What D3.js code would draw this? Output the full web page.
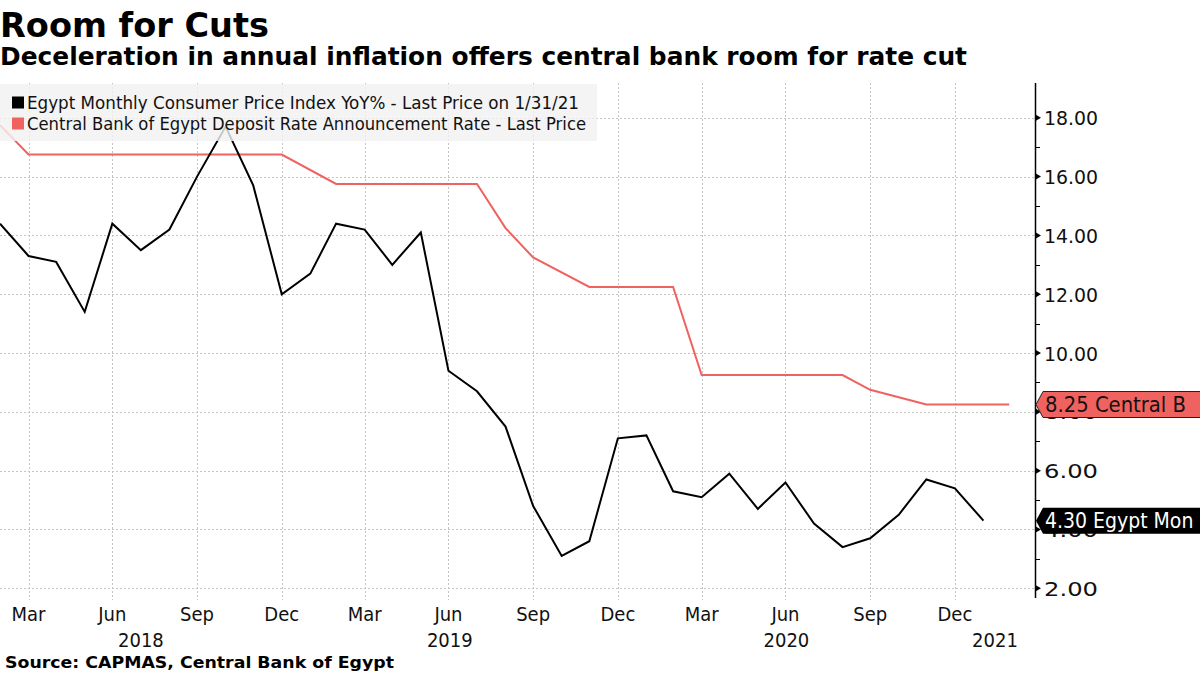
<!DOCTYPE html>
<html>
<head>
<meta charset="utf-8">
<script src="https://cdn.jsdelivr.net/npm/d3@7"></script>
<style>
  html, body { margin: 0; padding: 0; background: #fff; }
  svg { display: block; }
</style>
</head>
<body>
<div id="chart"></div>
<script>
// ---------------- DATA ----------------
const cpiMonths = ["2018-02","2018-03","2018-04","2018-05","2018-06","2018-07","2018-08","2018-09","2018-10","2018-11","2018-12",
  "2019-01","2019-02","2019-03","2019-04","2019-05","2019-06","2019-07","2019-08","2019-09","2019-10","2019-11","2019-12",
  "2020-01","2020-02","2020-03","2020-04","2020-05","2020-06","2020-07","2020-08","2020-09","2020-10","2020-11","2020-12",
  "2021-01"];
const cpiValues = [14.4,13.3,13.1,11.4,14.4,13.5,14.2,16.0,17.7,15.7,12.0,
  12.7,14.4,14.2,13.0,14.1,9.4,8.7,7.5,4.8,3.1,3.6,7.1,
  7.2,5.3,5.1,5.9,4.7,5.6,4.2,3.4,3.7,4.5,5.7,5.4,
  4.3];
const rateMonths = ["2018-02","2018-03","2018-12","2019-02","2019-07","2019-08","2019-09","2019-11","2020-02","2020-03","2020-08","2020-09","2020-11","2021-02"];
const rateValues = [17.75,16.75,16.75,15.75,15.75,14.25,13.25,12.25,12.25,9.25,9.25,8.75,8.25,8.25];
const xTickMonths = ["2018-03","2018-06","2018-09","2018-12","2019-03","2019-06","2019-09","2019-12","2020-03","2020-06","2020-09","2020-12"];
const xTickLabels = ["Mar","Jun","Sep","Dec","Mar","Jun","Sep","Dec","Mar","Jun","Sep","Dec"];
const yearLabels = ["2018","2019","2020","2021"];
const yTicks = [2,4,6,8,10,12,14,16,18];
const yMinorTicks = [3,5,7,9,11,13,15,17];
const seriesNames = ["Egypt Monthly Consumer Price Index YoY% - Last Price on 1/31/21",
                     "Central Bank of Egypt Deposit Rate Announcement Rate - Last Price"];
const lastLabels = ["4.30 Egypt Mon", "8.25 Central B"];
const titleText = "Room for Cuts";
const subtitleText = "Deceleration in annual inflation offers central bank room for rate cut";
const sourceText = "Source: CAPMAS, Central Bank of Egypt";

// ---------------- SETUP ----------------
const W = 1200, H = 675;
const RED = "#f0625f";
const COND = "'DejaVu Sans Condensed', 'DejaVu Sans', sans-serif";
const BOLD = "'DejaVu Sans', sans-serif";

// month-end date of "YYYY-MM"
const monthEnd = s => { const [yy, mm] = s.split("-").map(Number); return new Date(yy, mm, 0); };

const plot = { left: 0, right: 1035, top: 83, bottom: 598 };
const x = d3.scaleTime()
  .domain([new Date(2018, 1, 28), new Date(2021, 2, 28)])
  .range([plot.left, plot.right]);
const y = d3.scaleLinear().domain([2, 18]).range([588.3, 117.8]);

const svg = d3.select("#chart").append("svg")
  .attr("width", W).attr("height", H).attr("viewBox", `0 0 ${W} ${H}`);

function fit(sel, target) {
  const n = sel.node();
  const w = n.getComputedTextLength();
  if (Math.abs(w - target) > 1) sel.attr("textLength", target).attr("lengthAdjust", "spacingAndGlyphs");
  return sel;
}

// ---------------- GRID ----------------
const grid = svg.append("g").attr("stroke", "#c4c4c4").attr("stroke-width", 1).attr("stroke-dasharray", "2,2");
grid.selectAll("line.h").data(yTicks).join("line").attr("class", "h")
  .attr("x1", plot.left).attr("x2", plot.right)
  .attr("y1", d => Math.round(y(d)) + 0.5).attr("y2", d => Math.round(y(d)) + 0.5);
grid.selectAll("line.v").data(xTickMonths).join("line").attr("class", "v")
  .attr("x1", d => Math.round(x(monthEnd(d))) + 0.5).attr("x2", d => Math.round(x(monthEnd(d))) + 0.5)
  .attr("y1", plot.top).attr("y2", 600);

// ---------------- LINES ----------------
svg.append("clipPath").attr("id", "clip").append("rect")
  .attr("x", plot.left).attr("y", plot.top).attr("width", plot.right - plot.left).attr("height", plot.bottom - plot.top);

const cpi = cpiMonths.map((m, i) => ({ d: monthEnd(m), v: cpiValues[i] }));
const rate = rateMonths.map((m, i) => ({ d: monthEnd(m), v: rateValues[i] }));
const line = d3.line().x(p => x(p.d)).y(p => y(p.v));

svg.append("path").datum(rate).attr("clip-path", "url(#clip)")
  .attr("fill", "none").attr("stroke", RED).attr("stroke-width", 2).attr("d", line);
svg.append("path").datum(cpi).attr("clip-path", "url(#clip)")
  .attr("fill", "none").attr("stroke", "#000").attr("stroke-width", 2).attr("stroke-linejoin", "miter").attr("d", line);

// ---------------- LEGEND ----------------
svg.append("rect").attr("x", 0).attr("y", 84).attr("width", 597).attr("height", 57)
  .attr("fill", "#f2f2f2").attr("fill-opacity", 0.82);
const legColors = ["#000", RED];
const legBase = [109, 130];
const legWidths = [552, 559];
seriesNames.forEach((name, i) => {
  svg.append("rect").attr("x", 12).attr("y", legBase[i] - 12.5).attr("width", 12).attr("height", 12).attr("fill", legColors[i]);
  const t = svg.append("text").attr("x", 27).attr("y", legBase[i])
    .attr("font-family", COND).attr("font-size", 17).attr("fill", "#111").text(name);
  fit(t, legWidths[i]);
});

// ---------------- Y AXIS ----------------
const yAxisG = svg.append("g").attr("transform", `translate(${plot.right},0)`)
  .call(d3.axisRight(y).tickValues(yTicks).tickFormat(d3.format(".2f")).tickSize(0).tickPadding(9));
yAxisG.select(".domain").remove();
yAxisG.selectAll("text").attr("font-family", COND).attr("font-size", 20).attr("fill", "#111").attr("dy", "0.35em");
yAxisG.selectAll("text").each(function () { fit(d3.select(this), 54); });

svg.append("line").attr("x1", plot.right + 0.5).attr("x2", plot.right + 0.5).attr("y1", plot.top).attr("y2", plot.bottom)
  .attr("stroke", "#000").attr("stroke-width", 1.5);
svg.append("g").selectAll("path").data(yTicks).join("path")
  .attr("d", d => { const yy = y(d); return `M${plot.right},${yy - 3.5}L${plot.right + 6},${yy}L${plot.right},${yy + 3.5}Z`; })
  .attr("fill", "#000");
svg.append("g").selectAll("line").data(yMinorTicks).join("line")
  .attr("x1", plot.right).attr("x2", plot.right + 5)
  .attr("y1", d => Math.round(y(d)) + 0.5).attr("y2", d => Math.round(y(d)) + 0.5)
  .attr("stroke", "#000").attr("stroke-width", 1);

// ---------------- X AXIS LABELS ----------------
svg.append("g").selectAll("text").data(xTickMonths).join("text")
  .attr("x", d => x(monthEnd(d))).attr("y", 621)
  .attr("text-anchor", "middle").attr("font-family", COND).attr("font-size", 20).attr("fill", "#111")
  .text((d, i) => xTickLabels[i]);

const yearSpans = yearLabels.map(yr => {
  const a = Math.max(x(new Date(+yr - 1, 11, 31)), plot.left);
  const b = Math.min(x(new Date(+yr, 11, 31)), plot.right);
  return { yr, c: (a + b) / 2 };
});
svg.append("g").selectAll("text").data(yearSpans).join("text")
  .attr("x", d => d.c).attr("y", 647)
  .attr("text-anchor", "middle").attr("font-family", COND).attr("font-size", 20).attr("fill", "#111")
  .text(d => d.yr);

// ---------------- LAST VALUE TAGS ----------------
const tags = [
  { v: cpiValues[cpiValues.length - 1], fill: "#000", text: "#fff", stroke: "none", label: lastLabels[0], w: 149 },
  { v: rateValues[rateValues.length - 1], fill: RED, text: "#111", stroke: "#222", label: lastLabels[1], w: 141 }
];
tags.forEach(t => {
  const cy = y(t.v), h = 26, x0 = plot.right + 1, x1 = plot.right + 8;
  svg.append("path")
    .attr("d", `M${x0},${cy}L${x1},${cy - h / 2}L${W + 2},${cy - h / 2}L${W + 2},${cy + h / 2}L${x1},${cy + h / 2}Z`)
    .attr("fill", t.fill).attr("stroke", t.stroke).attr("stroke-width", 1);
  fit(svg.append("text").attr("x", 1045).attr("y", cy).attr("dy", "0.36em")
    .attr("font-family", COND).attr("font-size", 21).attr("fill", t.text).text(t.label), t.w);
});

// ---------------- TITLES ----------------
fit(svg.append("text").attr("x", 0).attr("y", 37).attr("font-family", BOLD).attr("font-weight", "bold")
  .attr("font-size", 33).attr("fill", "#000").text(titleText), 269);
fit(svg.append("text").attr("x", 0).attr("y", 65).attr("font-family", BOLD).attr("font-weight", "bold")
  .attr("font-size", 24).attr("fill", "#000").text(subtitleText), 967);
fit(svg.append("text").attr("x", 5).attr("y", 668).attr("font-family", BOLD).attr("font-weight", "bold")
  .attr("font-size", 16.5).attr("fill", "#000").text(sourceText), 389);
</script>
</body>
</html>
